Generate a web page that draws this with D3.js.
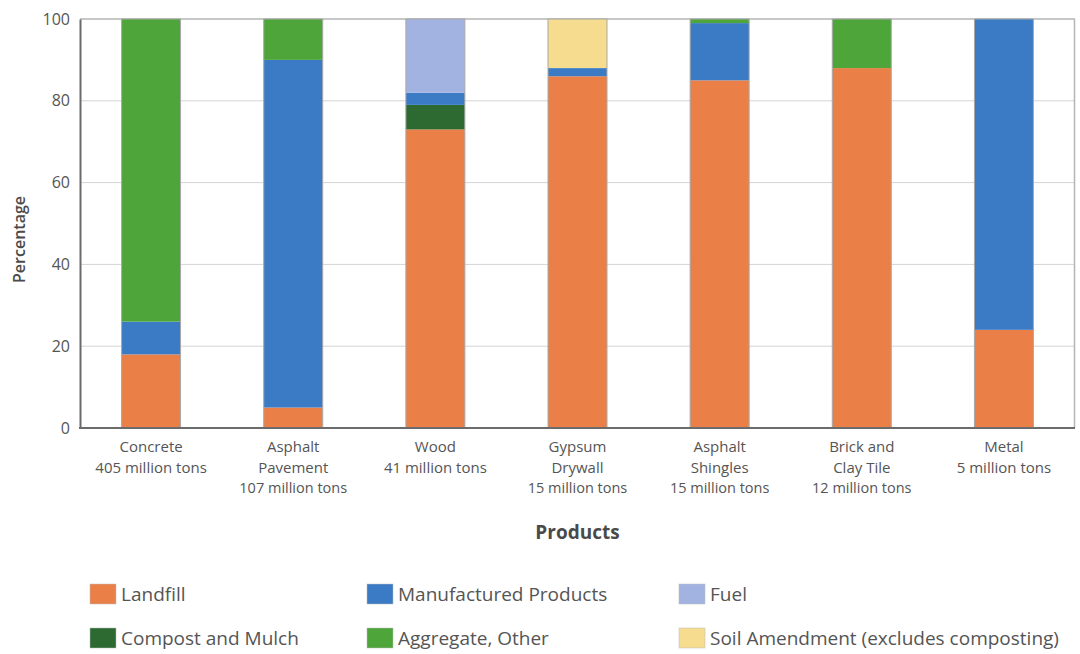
<!DOCTYPE html>
<html>
<head>
<meta charset="utf-8">
<script src="https://cdn.jsdelivr.net/npm/d3@7"></script>
<style>
  html, body { margin: 0; padding: 0; background: #fff; }
  svg { display: block; font-family: "Open Sans", sans-serif; }
</style>
</head>
<body>
<svg id="chart" width="1080" height="654"></svg>
<script>
// Products and their annual tonnage
const products = ["Concrete", "Asphalt Pavement", "Wood", "Gypsum Drywall", "Asphalt Shingles", "Brick and Clay Tile", "Metal"];
const productLabels = [
  ["Concrete", "405 million tons"],
  ["Asphalt", "Pavement", "107 million tons"],
  ["Wood", "41 million tons"],
  ["Gypsum", "Drywall", "15 million tons"],
  ["Asphalt", "Shingles", "15 million tons"],
  ["Brick and", "Clay Tile", "12 million tons"],
  ["Metal", "5 million tons"]
];

// Share (%) of each product going to each end use
const landfill      = [18, 5, 73, 86, 85, 88, 24];
const compost       = [0, 0, 6, 0, 0, 0, 0];
const manufactured  = [8, 85, 3, 2, 14, 0, 76];
const aggregate     = [74, 10, 0, 0, 1, 12, 0];
const fuel          = [0, 0, 18, 0, 0, 0, 0];
const soilAmendment = [0, 0, 0, 12, 0, 0, 0];

const yTicks = [0, 20, 40, 60, 80, 100];

const seriesDefs = [
  { key: "landfill", name: "Landfill", values: landfill, color: "#ea8047" },
  { key: "compost", name: "Compost and Mulch", values: compost, color: "#2c6a31" },
  { key: "manufactured", name: "Manufactured Products", values: manufactured, color: "#3b7bc5" },
  { key: "aggregate", name: "Aggregate, Other", values: aggregate, color: "#4ea63b" },
  { key: "fuel", name: "Fuel", values: fuel, color: "#a2b3e2" },
  { key: "soil", name: "Soil Amendment (excludes composting)", values: soilAmendment, color: "#f6dc8e" }
];

const rows = products.map((p, i) => {
  const r = { product: p };
  seriesDefs.forEach(s => { r[s.key] = s.values[i]; });
  return r;
});

const svg = d3.select("#chart");
const margin = { left: 80, right: 5, top: 19, bottom: 226 };
const W = 1080, H = 654;
const plotR = W - margin.right, plotB = H - margin.bottom;

const x = d3.scaleBand().domain(products).range([margin.left, plotR])
  .paddingInner(0.585).paddingOuter(0.2925);
const y = d3.scaleLinear().domain([0, 100]).range([plotB, margin.top]);

// gridlines
svg.append("g").selectAll("line").data(yTicks.filter(t => t > 0 && t < 100)).join("line")
  .attr("x1", margin.left).attr("x2", plotR)
  .attr("y1", d => y(d)).attr("y2", d => y(d))
  .attr("stroke", "#d4d4d4").attr("stroke-width", 1);

// frame (top and right)
svg.append("line").attr("x1", margin.left).attr("x2", plotR)
  .attr("y1", y(100)).attr("y2", y(100)).attr("stroke", "#b5b5b5").attr("stroke-width", 1.5);
svg.append("line").attr("x1", plotR - 0.5).attr("x2", plotR - 0.5)
  .attr("y1", y(100)).attr("y2", y(0)).attr("stroke", "#b5b5b5").attr("stroke-width", 1.5);

// stacked bars
const stack = d3.stack().keys(seriesDefs.map(s => s.key));
const layers = stack(rows);
const colorOf = Object.fromEntries(seriesDefs.map(s => [s.key, s.color]));

svg.append("g").selectAll("g").data(layers).join("g")
  .attr("fill", d => colorOf[d.key])
  .selectAll("rect").data(d => d.filter(v => v[1] - v[0] > 0)).join("rect")
  .attr("x", d => x(d.data.product))
  .attr("width", x.bandwidth())
  .attr("y", d => y(d[1]))
  .attr("height", d => y(d[0]) - y(d[1]));

// bar outlines
svg.append("g").selectAll("rect").data(products).join("rect")
  .attr("x", d => x(d)).attr("width", x.bandwidth())
  .attr("y", y(100)).attr("height", y(0) - y(100))
  .attr("fill", "none").attr("stroke", "#a8a8a8").attr("stroke-width", 1);

// y axis
const yAxis = svg.append("g").attr("transform", `translate(${margin.left},0)`)
  .call(d3.axisLeft(y).tickValues(yTicks).tickSize(0).tickPadding(10));
yAxis.select(".domain").attr("stroke", "#6b6b6b").attr("stroke-width", 2);
yAxis.selectAll("text").attr("font-size", 16).attr("fill", "#555")
  .attr("font-family", "'Open Sans', sans-serif");

// x axis line
svg.append("line").attr("x1", margin.left - 1).attr("x2", plotR)
  .attr("y1", y(0)).attr("y2", y(0)).attr("stroke", "#6b6b6b").attr("stroke-width", 2);

// x labels, one text element per line
const xl = svg.append("g").selectAll("g").data(products).join("g");
xl.each(function (p, i) {
  const lines = productLabels[i];
  d3.select(this).selectAll("text").data(lines).join("text")
    .attr("text-anchor", "middle").attr("fill", "#555")
    .attr("x", x(p) + x.bandwidth() / 2)
    .attr("y", (ln, j) => y(0) + 24 + j * 20.5)
    .attr("font-size", (ln, j) => (lines.length === 3 && j === 2) ? 14.5 : 15)
    .text(ln => ln);
});

// axis titles
svg.append("text").attr("x", (margin.left + plotR) / 2).attr("y", 539)
  .attr("text-anchor", "middle").attr("font-size", 19).attr("font-weight", 700)
  .attr("fill", "#4a4a4a").text("Products");
svg.append("text").attr("transform", `translate(25,${(y(0) + y(100)) / 2 + 16}) rotate(-90)`)
  .attr("text-anchor", "middle").attr("font-size", 16).attr("font-weight", 600)
  .attr("fill", "#4a4a4a").text("Percentage");

// legend
const legendOrder = ["landfill", "manufactured", "fuel", "compost", "aggregate", "soil"];
const colX = [90, 367, 679];
const rowY = [584, 628];
const leg = svg.append("g").selectAll("g").data(legendOrder).join("g")
  .attr("transform", (k, i) => `translate(${colX[i % 3]},${rowY[Math.floor(i / 3)]})`);
leg.append("rect").attr("width", 26).attr("height", 20)
  .attr("fill", k => colorOf[k]).attr("stroke", "#bbb").attr("stroke-width", 0.5);
leg.append("text").attr("x", 31).attr("y", 16.5).attr("font-size", 19).attr("fill", "#555")
  .text(k => seriesDefs.find(s => s.key === k).name);
</script>
</body>
</html>
